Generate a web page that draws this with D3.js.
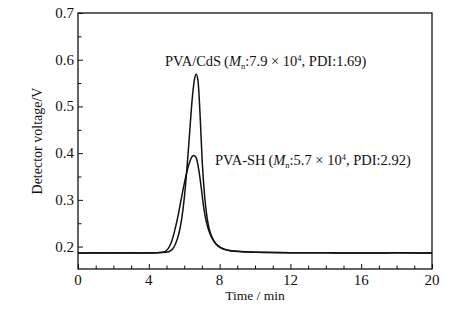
<!DOCTYPE html>
<html>
<head>
<meta charset="utf-8">
<script src="https://cdn.jsdelivr.net/npm/d3@7"></script>
<style>
  body { margin: 0; background: #fff; }
  svg text { font-family: "Liberation Serif", "Times New Roman", serif; fill: #111; }
</style>
</head>
<body>
<div id="chart"></div>
<script>
// GPC traces (time in min, detector voltage in V)
const cdsTime = [0, 1, 2, 3, 4, 4.5, 5, 5.3, 5.5, 5.7, 5.85, 6.0, 6.15, 6.3, 6.45, 6.58, 6.68, 6.78, 6.9, 7.02, 7.15, 7.28, 7.4, 7.55, 7.7, 7.9, 8.2, 8.6, 9.2, 10, 12, 14, 16, 18, 20];
const cdsVolt = [0.186, 0.186, 0.187, 0.186, 0.187, 0.187, 0.188, 0.193, 0.205, 0.228, 0.257, 0.302, 0.365, 0.44, 0.515, 0.558, 0.569, 0.555, 0.48, 0.38, 0.31, 0.265, 0.24, 0.222, 0.211, 0.202, 0.195, 0.191, 0.189, 0.188, 0.187, 0.187, 0.186, 0.187, 0.186];
const shTime = [0, 1, 2, 3, 4, 4.5, 4.9, 5.1, 5.3, 5.5, 5.7, 5.9, 6.1, 6.3, 6.45, 6.55, 6.68, 6.82, 6.95, 7.08, 7.2, 7.32, 7.45, 7.6, 7.8, 8.1, 8.5, 9, 10, 12, 14, 16, 18, 20];
const shVolt = [0.186, 0.187, 0.186, 0.187, 0.186, 0.187, 0.189, 0.196, 0.212, 0.24, 0.275, 0.315, 0.352, 0.38, 0.393, 0.395, 0.39, 0.365, 0.33, 0.29, 0.262, 0.243, 0.228, 0.216, 0.205, 0.197, 0.192, 0.19, 0.188, 0.187, 0.187, 0.186, 0.187, 0.186];
const xTicks = [0, 4, 8, 12, 16, 20];
const yTicks = [0.2, 0.3, 0.4, 0.5, 0.6, 0.7];

const width = 470, height = 323;
const margin = {top: 13, right: 38, bottom: 54, left: 78};

const svg = d3.select("#chart").append("svg")
  .attr("width", width)
  .attr("height", height);

const x = d3.scaleLinear().domain([0, 20]).range([margin.left, width - margin.right]);
const y = d3.scaleLinear().domain([0.152, 0.7]).range([height - margin.bottom, margin.top]);

// frame
svg.append("rect")
  .attr("x", x(0)).attr("y", y(0.7))
  .attr("width", x(20) - x(0)).attr("height", y(0.152) - y(0.7))
  .attr("fill", "none").attr("stroke", "#111").attr("stroke-width", 1.3);

// bottom axis, ticks inside
const xAxis = svg.append("g")
  .attr("transform", `translate(0,${y(0.152)})`)
  .call(d3.axisBottom(x).tickValues(d3.range(0, 21, 1)).tickSize(-4).tickFormat(""));
xAxis.selectAll(".tick line").attr("y2", d => xTicks.includes(d) ? -5 : -3.5);
xAxis.select(".domain").remove();
xAxis.selectAll("line").attr("stroke", "#111");

svg.append("g").selectAll("text")
  .data(xTicks)
  .join("text")
  .attr("x", d => x(d))
  .attr("y", y(0.152) + 16)
  .attr("text-anchor", "middle")
  .attr("font-size", 15)
  .text(d => d);

// left axis
const yAxis = svg.append("g")
  .attr("transform", `translate(${x(0)},0)`)
  .call(d3.axisLeft(y).tickValues(d3.range(0.2, 0.701, 0.05)).tickSize(-4).tickFormat(""));
yAxis.selectAll(".tick line").attr("x2", (d, i) => i % 2 === 0 ? 5 : 3.5);
yAxis.select(".domain").remove();
yAxis.selectAll("line").attr("stroke", "#111");

svg.append("g").selectAll("text")
  .data(yTicks)
  .join("text")
  .attr("x", x(0) - 4)
  .attr("y", d => y(d) + 5)
  .attr("text-anchor", "end")
  .attr("font-size", 15)
  .text(d => d.toFixed(1));

// axis titles
svg.append("text")
  .attr("x", (x(0) + x(20)) / 2)
  .attr("y", 300)
  .attr("text-anchor", "middle")
  .attr("font-size", 13.5)
  .text("Time / min");

svg.append("text")
  .attr("transform", `translate(42,${(y(0.152) + y(0.7)) / 2}) rotate(-90)`)
  .attr("text-anchor", "middle")
  .attr("font-size", 14)
  .text("Detector voltage/V");

// traces
const line = d3.line().x(d => x(d[0])).y(d => y(d[1])).curve(d3.curveMonotoneX);
[[shTime, shVolt], [cdsTime, cdsVolt]].forEach(([t, v]) => {
  svg.append("path")
    .datum(d3.zip(t, v))
    .attr("fill", "none")
    .attr("stroke", "#111")
    .attr("stroke-width", 1.5)
    .attr("d", line);
});

// labels with italic M, subscript n, superscript 4
function label(px, py, name, mn, pdi) {
  const t = svg.append("text").attr("x", px).attr("y", py).attr("font-size", 14.5);
  t.append("tspan").text(name + "\u2009(");
  t.append("tspan").attr("font-style", "italic").text("M");
  t.append("tspan").attr("font-size", 8.5).attr("dy", 3).text("n");
  t.append("tspan").attr("dy", -3).text(":" + mn + " \u00d7 10");
  t.append("tspan").attr("font-size", 8.5).attr("dy", -5.5).text("4");
  t.append("tspan").attr("dy", 5.5).text(", PDI:" + pdi + ")");
}
label(165, 66, "PVA/CdS", "7.9", "1.69");
label(215, 165, "PVA-SH", "5.7", "2.92");
</script>
</body>
</html>
